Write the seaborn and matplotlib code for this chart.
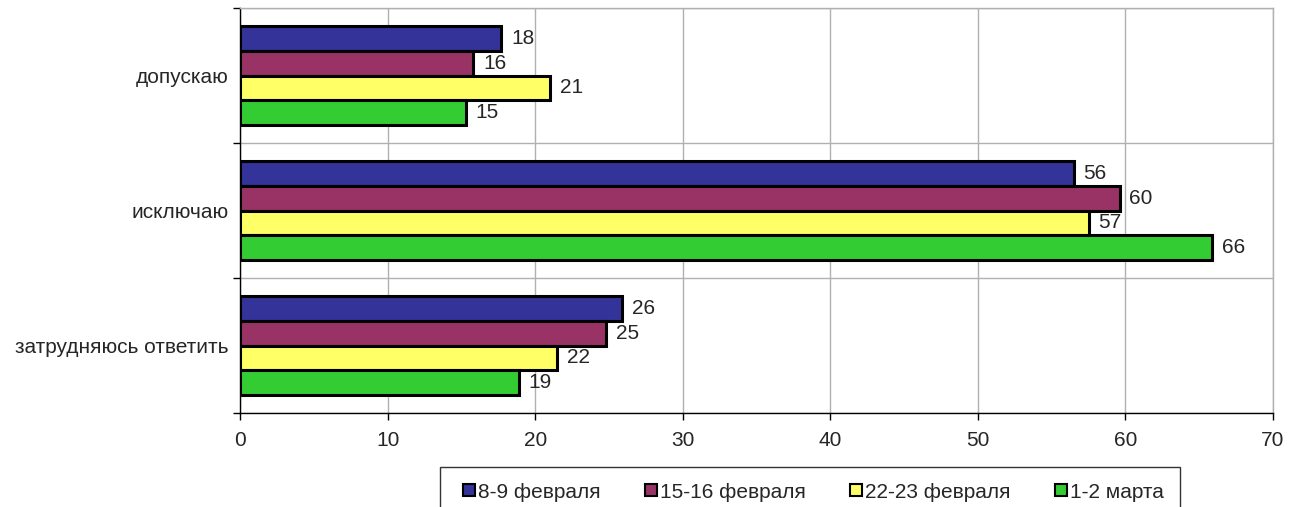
import numpy as np
import pandas as pd
import matplotlib
matplotlib.use("Agg")
import matplotlib.pyplot as plt
from matplotlib.lines import Line2D
import seaborn as sns

categories = ["допускаю", "исключаю", "затрудняюсь ответить"]
periods = ["8-9 февраля", "15-16 февраля", "22-23 февраля", "1-2 марта"]
# bar lengths, labels as printed
values_8_9_feb = [17.7, 56.5, 25.9]
values_15_16_feb = [15.8, 59.6, 24.8]
values_22_23_feb = [21.0, 57.5, 21.5]
values_1_2_mar = [15.3, 65.9, 18.9]
labels_8_9_feb = [18, 56, 26]
labels_15_16_feb = [16, 60, 25]
labels_22_23_feb = [21, 57, 22]
labels_1_2_mar = [15, 66, 19]
colors = ["#333399", "#993366", "#FFFF66", "#33CC33"]

series = [values_8_9_feb, values_15_16_feb, values_22_23_feb, values_1_2_mar]
series_labels = [labels_8_9_feb, labels_15_16_feb, labels_22_23_feb, labels_1_2_mar]
rows = []
for p, vals in zip(periods, series):
    for c, v in zip(categories, vals):
        rows.append({"cat": c, "period": p, "value": v})
df = pd.DataFrame(rows)

sns.set_style("white")
plt.rcParams["font.family"] = ["Liberation Sans", "DejaVu Sans"]
fs = 15

fig = plt.figure(figsize=(13, 5.07), dpi=100)
ax = fig.add_axes([240 / 1300, 1 - 413 / 507, (1273 - 240) / 1300, (413 - 8) / 507])

sns.barplot(data=df, y="cat", x="value", hue="period", orient="h",
            order=categories, hue_order=periods, palette=colors,
            edgecolor="black", linewidth=2.2, width=0.73, saturation=1,
            legend=False, ax=ax)

for cont, labs in zip(ax.containers, series_labels):
    ax.bar_label(cont, labels=[str(l) for l in labs], padding=7, fontsize=fs)

ax.set_xlim(0, 70)
ax.set_ylim(2.5, -0.5)
ax.set_xticks(np.arange(0, 71, 10))
ax.set_yticks(range(len(categories)))
ax.set_yticklabels(categories)
ax.set_yticks([-0.5, 0.5, 1.5, 2.5], minor=True)
ax.tick_params(axis="y", which="major", length=0, pad=8, labelsize=fs)
ax.tick_params(axis="y", which="minor", length=5, width=1, color="black", direction="out", left=True)
ax.tick_params(axis="x", length=5, width=1, color="black", direction="out", bottom=True, labelsize=fs, pad=8)
ax.set_xlabel("")
ax.set_ylabel("")

ax.grid(axis="x", which="major", color="#B0B0B0", linewidth=1)
ax.grid(axis="y", which="minor", color="#B0B0B0", linewidth=1)
ax.set_axisbelow(True)
for s in ["left", "bottom"]:
    ax.spines[s].set_color("black")
    ax.spines[s].set_linewidth(1)
for s in ["top", "right"]:
    ax.spines[s].set_color("#B0B0B0")
    ax.spines[s].set_linewidth(1)

handles = [Line2D([0], [0], marker="s", linestyle="none", markersize=9,
                  markerfacecolor=c, markeredgecolor="black", markeredgewidth=1.5)
           for c in colors]
leg = fig.legend(handles, periods, loc="upper center", ncol=4,
                 bbox_to_anchor=(810 / 1300, 1 - 467 / 507), frameon=True,
                 fancybox=False, edgecolor="black", fontsize=fs,
                 handlelength=1.2, handletextpad=-0.15, columnspacing=1.8,
                 borderpad=0.75, borderaxespad=0)
leg.get_frame().set_linewidth(1)

fig.savefig("out.png", dpi=100)
